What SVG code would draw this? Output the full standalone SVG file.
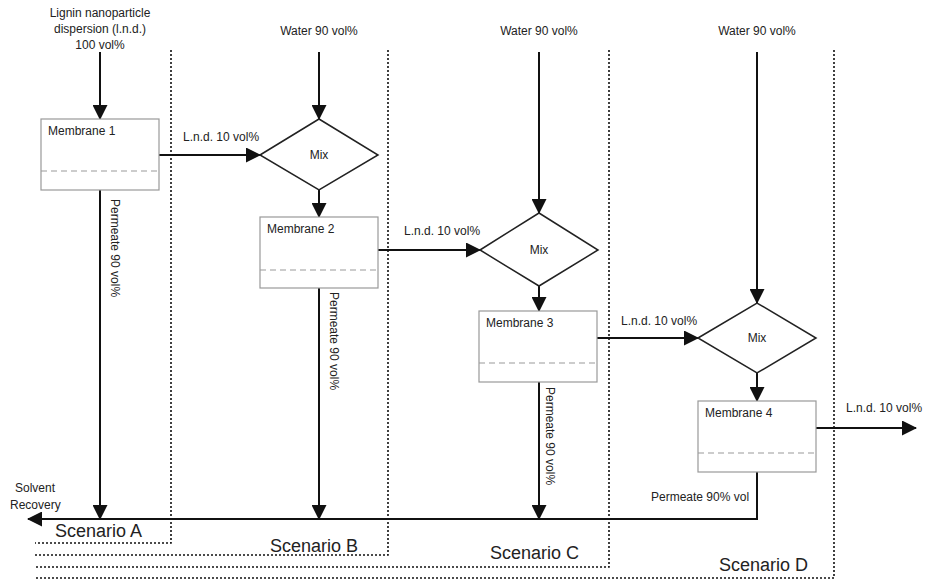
<svg xmlns="http://www.w3.org/2000/svg" width="929" height="579" viewBox="0 0 929 579">
<style>
text{font-family:"Liberation Sans",Arial,sans-serif;fill:#222;font-size:12px}
.big{font-size:18px}
.box{fill:#fff;stroke:#999;stroke-width:1.2}
.dash{stroke:#999;stroke-width:1.2;stroke-dasharray:6,4;fill:none}
.dia{fill:#fff;stroke:#222;stroke-width:1.5}
.ln{stroke:#111;stroke-width:2;fill:none}
.arr{marker-end:url(#ah)}
.dot{stroke:#111;stroke-width:1.6;stroke-dasharray:2,2;fill:none}
</style>
<defs>
<marker id="ah" markerUnits="userSpaceOnUse" markerWidth="15" markerHeight="15" refX="14" refY="7.5" orient="auto">
<path d="M0,0 L15,7.5 L0,15 z" fill="#111"/>
</marker>
</defs>
<rect width="929" height="579" fill="#fff"/>
<g id="scenarios">
<polyline class="dot" points="171,50 171,543 35,543"/>
<polyline class="dot" points="388,50 388,555 35,555"/>
<polyline class="dot" points="609,50 609,567 35,567"/>
<polyline class="dot" points="834,50 834,578 35,578"/>
<text class="big" x="55" y="537">Scenario A</text>
<text class="big" x="270" y="552">Scenario B</text>
<text class="big" x="490" y="559">Scenario C</text>
<text class="big" x="719" y="571">Scenario D</text>
</g>
<g id="connectors">
<line class="ln arr" x1="100" y1="52" x2="100" y2="119"/>
<line class="ln arr" x1="159" y1="155" x2="260" y2="155"/>
<line class="ln arr" x1="319" y1="52" x2="319" y2="119"/>
<line class="ln arr" x1="319" y1="190" x2="319" y2="217"/>
<line class="ln arr" x1="378" y1="250" x2="480" y2="250"/>
<line class="ln arr" x1="539" y1="52" x2="539" y2="213"/>
<line class="ln arr" x1="539" y1="286" x2="539" y2="311"/>
<line class="ln arr" x1="597" y1="338" x2="698" y2="338"/>
<line class="ln arr" x1="757" y1="52" x2="757" y2="303"/>
<line class="ln arr" x1="757" y1="373" x2="757" y2="401"/>
<line class="ln arr" x1="816" y1="428" x2="916" y2="428"/>
<line class="ln arr" x1="100" y1="190" x2="100" y2="519"/>
<line class="ln arr" x1="319" y1="288" x2="319" y2="519"/>
<line class="ln arr" x1="539" y1="382" x2="539" y2="519"/>
<polyline class="ln arr" points="757,472 757,519 28,519"/>
<text x="183" y="141">L.n.d. 10 vol%</text>
<text x="404" y="235">L.n.d. 10 vol%</text>
<text x="621" y="325">L.n.d. 10 vol%</text>
<text x="846" y="412">L.n.d. 10 vol%</text>
<text x="651" y="501">Permeate 90% vol</text>
<text transform="translate(111,199) rotate(90)">Permeate 90 vol%</text>
<text transform="translate(330,292) rotate(90)">Permeate 90 vol%</text>
<text transform="translate(546,387) rotate(90)">Permeate 90 vol%</text>
<text x="15" y="492">Solvent</text>
<text x="10" y="509">Recovery</text>
</g>
<g id="input">
<text x="100" y="17" text-anchor="middle">Lignin nanoparticle</text>
<text x="100" y="33" text-anchor="middle">dispersion (l.n.d.)</text>
<text x="100" y="49" text-anchor="middle">100 vol%</text>
</g>
<g id="water1"><text x="319" y="35" text-anchor="middle">Water 90 vol%</text></g>
<g id="water2"><text x="539" y="35" text-anchor="middle">Water 90 vol%</text></g>
<g id="water3"><text x="757" y="35" text-anchor="middle">Water 90 vol%</text></g>
<g id="membrane1">
<rect class="box" x="41" y="119" width="118" height="71"/>
<line class="dash" x1="41" y1="171" x2="159" y2="171"/>
<text x="48" y="135">Membrane 1</text>
</g>
<g id="mix1">
<polygon class="dia" points="260,155 319,119 378,155 319,190"/>
<text x="319" y="159" text-anchor="middle">Mix</text>
</g>
<g id="membrane2">
<rect class="box" x="260" y="217" width="118" height="71"/>
<line class="dash" x1="260" y1="270" x2="378" y2="270"/>
<text x="267" y="233">Membrane 2</text>
</g>
<g id="mix2">
<polygon class="dia" points="480,250 539,213 598,250 539,286"/>
<text x="539" y="254" text-anchor="middle">Mix</text>
</g>
<g id="membrane3">
<rect class="box" x="479" y="311" width="118" height="71"/>
<line class="dash" x1="479" y1="363" x2="597" y2="363"/>
<text x="486" y="327">Membrane 3</text>
</g>
<g id="mix3">
<polygon class="dia" points="698,338 757,303 816,338 757,373"/>
<text x="757" y="342" text-anchor="middle">Mix</text>
</g>
<g id="membrane4">
<rect class="box" x="698" y="401" width="118" height="71"/>
<line class="dash" x1="698" y1="453" x2="816" y2="453"/>
<text x="705" y="417">Membrane 4</text>
</g>
</svg>
